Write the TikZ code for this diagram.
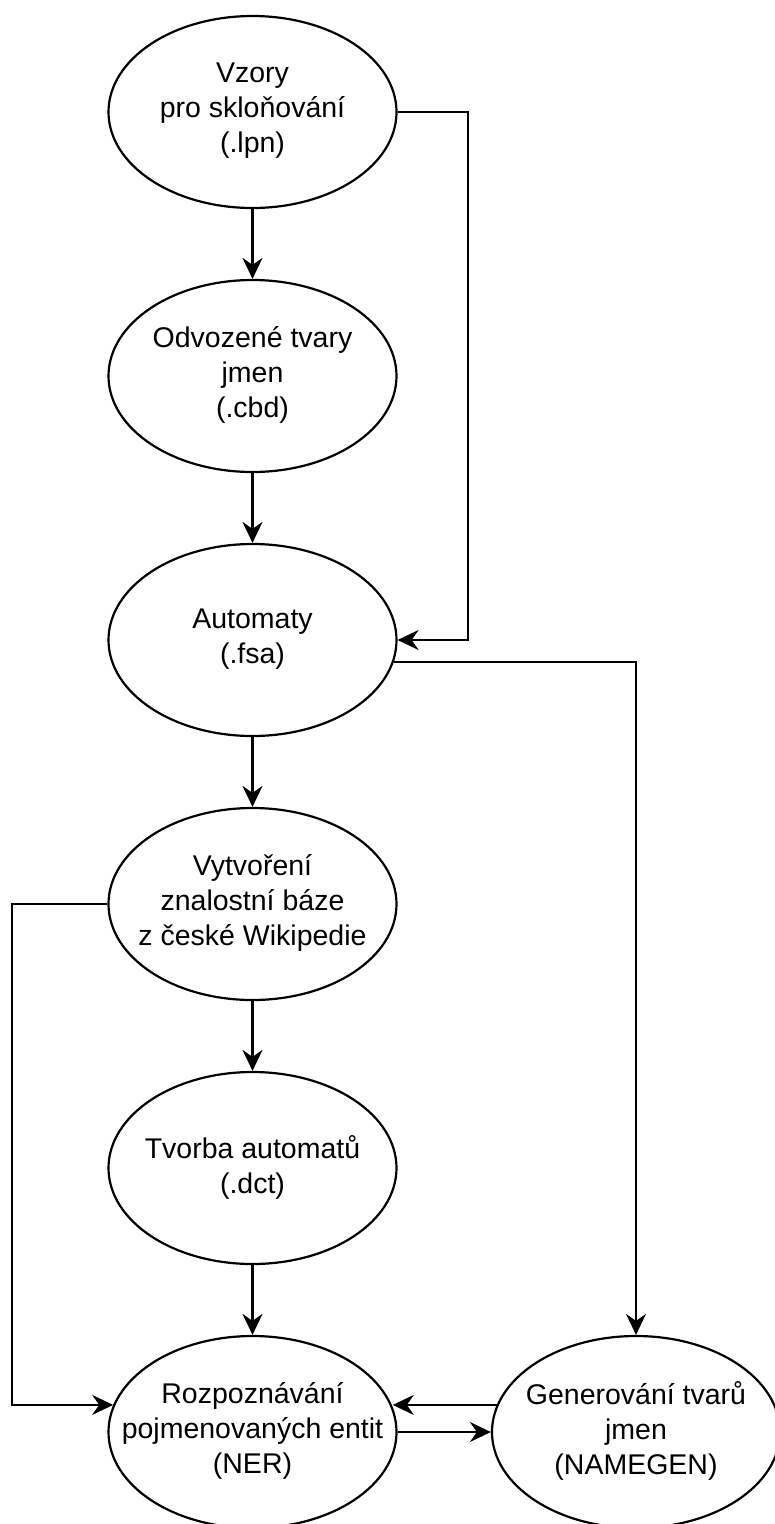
\documentclass[tikz,border=0pt]{standalone}
\usepackage{fontspec}
\setmainfont{Liberation Sans}
\usetikzlibrary{shapes.geometric,arrows.meta}
\begin{document}
\begin{tikzpicture}[x=1pt,y=-1pt,
  proc/.style={ellipse,draw,line width=2.2pt,minimum width=288pt,minimum height=192pt,inner sep=0pt},
  lbl/.style={inner sep=0pt,align=center,font=\fontsize{28.5}{35}\selectfont},
  arr/.style={line width=2.2pt,-{Stealth[length=21pt,width=20pt,inset=7pt]}}]
\useasboundingbox (0,0) rectangle (775,1524);
\clip (0,0) rectangle (775,1524);
\fill[white] (0,0) rectangle (775,1524);
\node[proc] (e1) at (252.5,112) {};
\node[proc] (e2) at (252.5,376) {};
\node[proc] (e3) at (252.5,640) {};
\node[proc] (e4) at (252.5,904) {};
\node[proc] (e5) at (252.5,1168) {};
\node[proc] (ner) at (252.5,1432) {};
\node[proc] (ng) at (636,1432) {};
\node[lbl] (t1) at ([yshift=1pt]e1.center) {Vzory\\pro skloňování\\(.lpn)};
\node[lbl] (t2) at ([yshift=1pt]e2.center) {Odvozené tvary\\jmen\\(.cbd)};
\node[lbl] (t3) at ([yshift=1pt]e3.center) {Automaty\\(.fsa)};
\node[lbl] (t4) at ([yshift=1pt]e4.center) {Vytvoření\\znalostní báze\\z české Wikipedie};
\node[lbl] (t5) at ([yshift=1pt]e5.center) {Tvorba automatů\\(.dct)};
\node[lbl] (t6) at ([yshift=1pt]ner.center) {Rozpoznávání\\pojmenovaných entit\\(NER)};
\node[lbl] (t7) at ([yshift=1pt]ng.center) {Generování tvarů\\jmen\\(NAMEGEN)};
\coordinate (r1) at (468,112);
\coordinate (r2) at (468,640);
\coordinate (l1) at (12,904);
\coordinate (l2) at (l1 |- ner.169.8);
\draw[arr] (e1) -- (e2);
\draw[arr] (e2) -- (e3);
\draw[arr] (e3) -- (e4);
\draw[arr] (e4) -- (e5);
\draw[arr] (e5) -- (ner);
\draw[arr] (e1.east) -- (r1) -- (r2) -- (e3.east);
\draw[arr] (e3.-9.77) -| (ng.north);
\draw[arr] (e4.west) -- (l1) -- (l2) -- (l2 -| ner.169.8);
\draw[arr] (ng.169.8) -- (ng.169.8 -| ner.10.2);
\draw[arr] (ner.east) -- (ng.west);
\end{tikzpicture}
\end{document}
